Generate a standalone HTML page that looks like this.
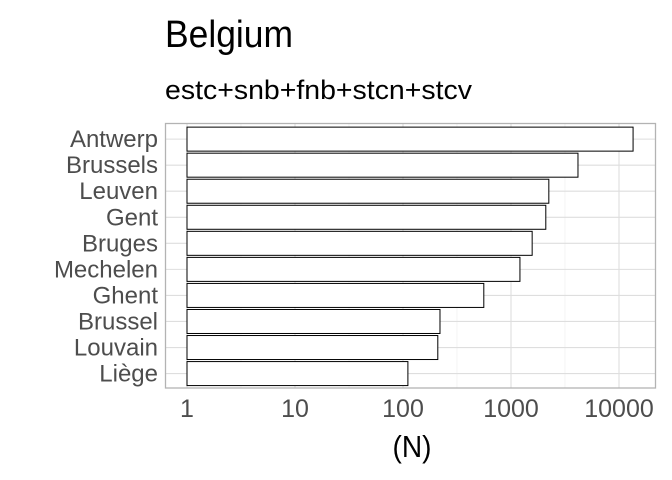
<!DOCTYPE html>
<html><head><meta charset="utf-8"><style>
body{margin:0;background:#fff}
svg{display:block;font-family:"Liberation Sans",sans-serif}
</style></head><body>
<svg id="chart" width="672" height="480">
<text x="165" y="47" font-size="38" fill="#000" textLength="128" lengthAdjust="spacingAndGlyphs">Belgium</text>
<text x="165" y="99" font-size="27" fill="#000" textLength="307" lengthAdjust="spacingAndGlyphs">estc+snb+fnb+stcn+stcv</text>
<g id="grid"></g>
<g id="bars"></g>
<rect x="165.5" y="123.5" width="490" height="264.5" fill="none" stroke="#b3b3b3" stroke-width="1.3"/>
<g id="labels"></g>
<text x="412" y="457" font-size="31" text-anchor="middle" fill="#000" textLength="39" lengthAdjust="spacingAndGlyphs">(N)</text>
</svg>
<script>
const categories=["Antwerp","Brussels","Leuven","Gent","Bruges","Mechelen","Ghent","Brussel","Louvain","Liège"];
const values=[13500,4170,2240,2100,1570,1210,560,220,210,111];
const tickValues=[1,10,100,1000,10000];
const tickLabels=["1","10","100","1000","10000"];
const NS="http://www.w3.org/2000/svg";
const X0=187,DEC=108,PTOP=123.5,STEP=26.05;
const xs=v=>X0+Math.log10(v)*DEC;
const yc=i=>PTOP+STEP*(0.6+i);
function mk(t,a,p){const e=document.createElementNS(NS,t);for(const k in a)e.setAttribute(k,a[k]);p.appendChild(e);return e;}
const grid=document.getElementById('grid'),bars=document.getElementById('bars'),labels=document.getElementById('labels');
tickValues.forEach((v,i)=>{
 const g=mk('line',{x1:xs(v),x2:xs(v),y1:PTOP,y2:388,stroke:'#dedede','stroke-width':1.1},grid);
 
 
 if(i<tickValues.length-1){const m=mk('line',{x1:xs(v*Math.sqrt(10)),x2:xs(v*Math.sqrt(10)),y1:PTOP,y2:388,stroke:'#ececec','stroke-width':0.6},grid);
 
 }
 const t=mk('text',{x:xs(v),y:417,'font-size':25,'text-anchor':'middle',fill:'#4d4d4d'},labels);t.textContent=tickLabels[i];
 
 
});
categories.forEach((c,i)=>{
 const y=yc(i);
 const g=mk('line',{x1:165,x2:655,y1:y,y2:y,stroke:'#dedede','stroke-width':1.1},grid);
 
 
 const b=mk('rect',{x:X0,y:y-12,width:xs(values[i])-X0,height:24,fill:'#fff',stroke:'#000','stroke-width':1},bars);
 
 
 const t=mk('text',{x:158,y:y+8,'font-size':24,'text-anchor':'end',fill:'#4d4d4d'},labels);t.textContent=c;
 
 
});
</script>
</body></html>
